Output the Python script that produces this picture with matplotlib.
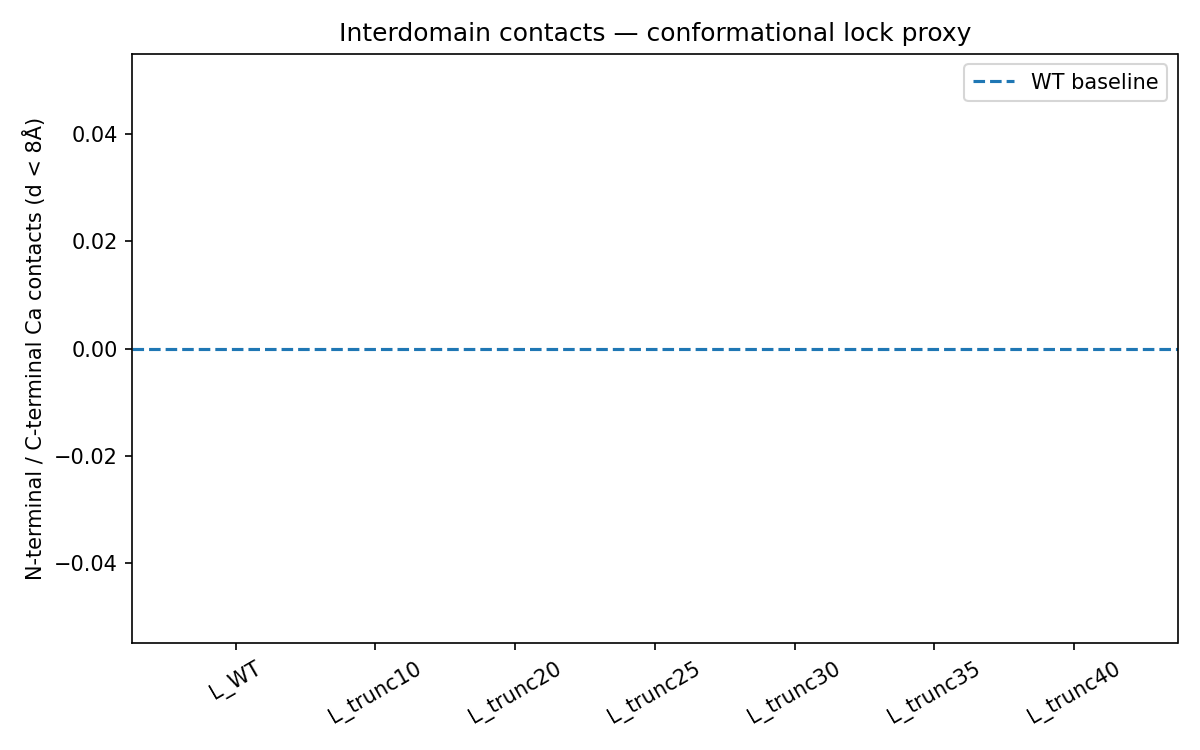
import matplotlib
matplotlib.use("Agg")
import matplotlib.pyplot as plt

variants = ["L_WT", "L_trunc10", "L_trunc20", "L_trunc25", "L_trunc30", "L_trunc35", "L_trunc40"]
contacts = [0, 0, 0, 0, 0, 0, 0]
wt_baseline = contacts[0]

fig, ax = plt.subplots(figsize=(8, 5), dpi=150)
ax.bar(variants, contacts)
ax.axhline(wt_baseline, linestyle="--", label="WT baseline")
ax.set_title("Interdomain contacts — conformational lock proxy")
ax.set_ylabel("N-terminal / C-terminal Ca contacts (d < 8Å)")
plt.xticks(rotation=30)
ax.legend()
plt.tight_layout()
plt.savefig("out.png")
